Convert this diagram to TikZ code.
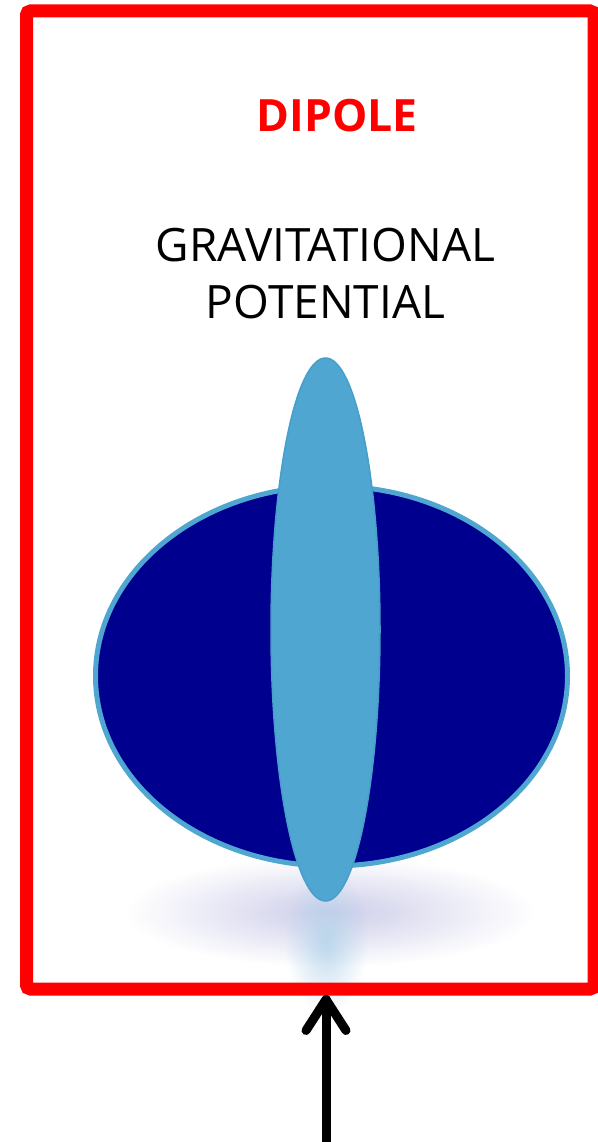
\documentclass[tikz,border=0pt]{standalone}
\usepackage{fontspec}
\setmainfont{Open Sans}
\usetikzlibrary{fadings,calc}
\definecolor{framered}{RGB}{255,0,0}
\definecolor{deepblue}{RGB}{0,0,142}
\definecolor{skyblue}{RGB}{79,166,209}
\definecolor{skyedge}{RGB}{72,158,202}
\definecolor{lavender}{RGB}{196,196,230}
\definecolor{paleblue}{RGB}{180,212,234}
\tikzfading[name=softfade, inner color=transparent!15, outer color=transparent!100]
\tikzset{
  framebox/.style={draw=framered, line width=13pt, rounded corners=4pt, inner sep=0pt,
    minimum width=567.5pt, minimum height=978pt},
  titletext/.style={text=framered, font=\bfseries\fontsize{44.5}{50}\selectfont, inner sep=0pt},
  bodytext/.style={text=black, font=\fontsize{46}{57}\selectfont, align=center, inner sep=0pt},
  arrowline/.style={line width=9pt, line cap=round, line join=round, draw=black}
}
\begin{document}
\begin{tikzpicture}[x=1pt, y=-1pt]
\useasboundingbox (0,0) rectangle (597,1142);
% reflections
\fill[lavender, path fading=softfade] (330,912) ellipse [x radius=205, y radius=55];
\fill[paleblue, path fading=softfade] (326,940) ellipse [x radius=42, y radius=75];
% frame
\node[framebox] (frame) at (310.25,500) {};
% ellipses
\draw[draw=skyblue, fill=deepblue, line width=5pt] (331.5,676) ellipse [x radius=236, y radius=190];
\draw[draw=skyedge, fill=skyblue, line width=1.5pt] (325.5,629.5) ellipse [x radius=54.5, y radius=271.5];
% texts
\node[titletext, anchor=base] (title) at (337,132) {DIPOLE};
\node[bodytext, anchor=base] (grav) at (325.5,318) {GRAVITATIONAL\\POTENTIAL};
% arrow
\coordinate (tail) at (326,1150);
\path (tail |- frame.south) ++(0,4) coordinate (tip);
\draw[arrowline] (tail) -- (tip);
\draw[arrowline] ($(tip)+(-20,31)$) -- (tip) -- ($(tip)+(20,31)$);
\end{tikzpicture}
\end{document}
